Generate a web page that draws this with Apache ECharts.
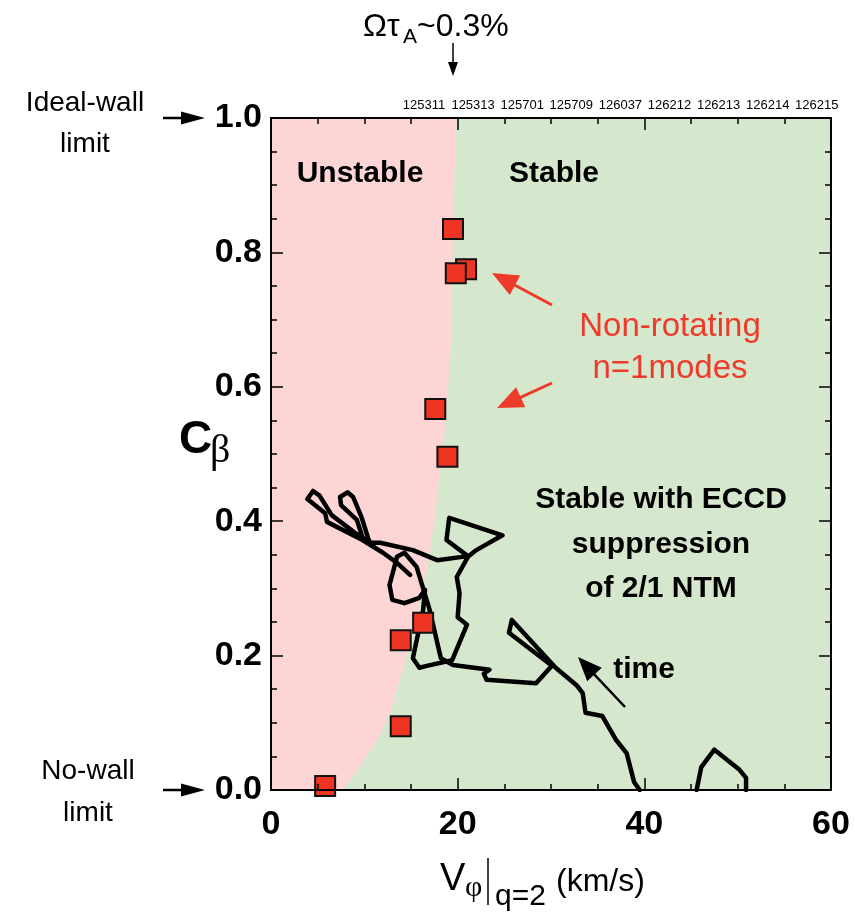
<!DOCTYPE html>
<html><head><meta charset="utf-8">
<script src="https://cdn.jsdelivr.net/npm/echarts@6/dist/echarts.min.js"></script>
<style>html,body{margin:0;padding:0;background:#fff}#chart{width:855px;height:920px}</style>
</head><body><div id="chart"></div>
<script>
// ---- data ----
const xTickValues = [0, 20, 40, 60];
const yTickValues = [0.0, 0.2, 0.4, 0.6, 0.8, 1.0];
const shotLabels = ['125311','125313','125701','125709','126037','126212','126213','126214','126215'];

// stability boundary (x = V_phi at given C_beta)
const boundaryY = [0.0, 0.03, 0.07, 0.119, 0.179, 0.25, 0.327, 0.40, 0.475, 0.55, 0.655, 0.78, 0.878, 1.0];
const boundaryX = [7.6, 9.3, 11.2, 12.9, 14.1, 15.5, 16.7, 17.5, 18.1, 18.7, 19.25, 19.45, 19.55, 19.9];

// non-rotating n=1 modes
const modeX = [19.5, 20.9, 19.8, 17.6, 18.9, 16.3, 13.9, 13.9, 5.8];
const modeY = [0.835, 0.775, 0.769, 0.567, 0.496, 0.249, 0.223, 0.095, 0.006];

// discharge trajectory
const trajX = [39.5,38.9,38.1,37.0,35.5,33.7,33.4,32.8,30.5,25.8,25.5,30.1,28.4,23.1,22.8,23.4,19.5,18.2,17.0,15.6,14.3,13.5,12.7,13.0,14.3,15.9,16.5,16.3,15.2,15.9,16.8,19.4,21.0,20.0,20.2,19.9,21.1,22.0,24.8,19.1,18.8,21.1,17.8,15.2,11.7,10.6,10.4,9.7,8.8,8.2,7.4,7.5,9.2,9.8,10.4,6.5,5.2,4.5,3.9,5.8,6.0,9.8,12.0,13.5,14.9];
const trajY = [0.0,0.012,0.055,0.074,0.110,0.115,0.144,0.155,0.182,0.253,0.234,0.185,0.159,0.164,0.173,0.179,0.186,0.196,0.268,0.332,0.353,0.347,0.305,0.283,0.278,0.286,0.298,0.268,0.196,0.182,0.185,0.193,0.246,0.257,0.293,0.317,0.347,0.357,0.379,0.405,0.372,0.348,0.342,0.357,0.368,0.368,0.375,0.406,0.436,0.443,0.436,0.424,0.402,0.376,0.368,0.409,0.438,0.445,0.433,0.412,0.399,0.372,0.353,0.338,0.320];
const traj2X = [45.6, 46.1, 47.5, 50.2, 50.9, 50.9];
const traj2Y = [0.0, 0.034, 0.060, 0.030, 0.018, 0.0];

// ---- styling ----
const PINK = '#fcd5d4', GREEN = '#d5e8ce', RED = '#ee3524', RTXT = '#ee3a2a';
const SANS = "'Liberation Sans', Arial, sans-serif";
const SERIF = "'Liberation Serif', 'DejaVu Serif', serif";

const chart = echarts.init(document.getElementById('chart'), null, {renderer: 'canvas'});

function txt(x, y, text, size, opts) {
  opts = opts || {};
  return {type: 'text', x: x, y: y, z: 50, silent: true,
    style: {text: text, fontSize: size, fontFamily: opts.family || SANS, fontWeight: opts.weight || 'normal',
      fill: opts.color || '#000', align: opts.align || 'center', verticalAlign: 'middle'}};
}
function arrow(x1, y1, x2, y2, color, headLen, headW, lw) {
  const dx = x2 - x1, dy = y2 - y1, L = Math.hypot(dx, dy), ux = dx / L, uy = dy / L;
  const bx = x2 - ux * headLen, by = y2 - uy * headLen;
  const px = -uy * headW / 2, py = ux * headW / 2;
  return [
    {type: 'line', z: 50, silent: true, shape: {x1: x1, y1: y1, x2: bx + ux * 2, y2: by + uy * 2}, style: {stroke: color, lineWidth: lw}},
    {type: 'polygon', z: 50, silent: true, shape: {points: [[x2, y2], [bx + px, by + py], [bx - px, by - py]]}, style: {fill: color}}
  ];
}

const graphics = [];
// top annotation
graphics.push(txt(363, 27, 'Ωτ', 32, {align: 'left'}));
graphics.push(txt(403, 37, 'A', 21, {align: 'left'}));
graphics.push(txt(417, 27, '~0.3%', 32, {align: 'left'}));
graphics.push(...arrow(453, 43, 453, 76, '#000', 14, 10, 1.5));
// shot numbers
shotLabels.forEach((s, i) => graphics.push(txt(424 + i * 49.1, 105, s, 13, {})));
// left annotations
graphics.push(txt(85, 103, 'Ideal-wall', 28, {}));
graphics.push(txt(85, 144, 'limit', 28, {}));
graphics.push(...arrow(163, 118, 205, 118, '#000', 24, 13, 2.5));
graphics.push(txt(88, 771, 'No-wall', 28, {}));
graphics.push(txt(88, 813, 'limit', 28, {}));
graphics.push(...arrow(163, 790, 205, 790, '#000', 24, 13, 2.5));
// y title
graphics.push(txt(179, 440, 'C', 46, {weight: 'bold', align: 'left'}));
graphics.push(txt(210, 451, 'β', 40, {family: SERIF, align: 'left'}));
// x title
graphics.push(txt(440, 880, 'V', 38, {align: 'left'}));
graphics.push(txt(465, 888, 'φ', 30, {family: SERIF, align: 'left'}));
graphics.push({type: 'line', z: 50, silent: true, shape: {x1: 488, y1: 858, x2: 488, y2: 905}, style: {stroke: '#000', lineWidth: 1.5}});
graphics.push(txt(495, 897, 'q=2', 30, {align: 'left'}));
graphics.push(txt(556, 882, '(km/s)', 32, {align: 'left'}));
// region labels
graphics.push(txt(360, 174, 'Unstable', 30, {weight: 'bold'}));
graphics.push(txt(554, 174, 'Stable', 30, {weight: 'bold'}));
graphics.push(txt(670, 327, 'Non-rotating', 33, {color: RTXT}));
graphics.push(txt(670, 369, 'n=1modes', 33, {color: RTXT}));
graphics.push(...arrow(552, 305, 492, 273, RTXT, 26, 22, 3));
graphics.push(...arrow(552, 383, 497, 408, RTXT, 26, 22, 3));
graphics.push(txt(661, 500, 'Stable with ECCD', 30, {weight: 'bold'}));
graphics.push(txt(661, 545, 'suppression', 30, {weight: 'bold'}));
graphics.push(txt(661, 589, 'of 2/1 NTM', 30, {weight: 'bold'}));
graphics.push(txt(644, 670, 'time', 30, {weight: 'bold'}));
graphics.push(...arrow(625, 707, 578, 657, '#000', 24, 20, 2.5));

const axisCommon = {
  type: 'value', min: 0, z: 10,
  axisLine: {show: true, onZero: false, lineStyle: {color: '#000', width: 2}},
  axisTick: {show: true, inside: true, length: 12, lineStyle: {color: '#000', width: 1.5}},
  minorTick: {show: true, splitNumber: 4, length: 6, lineStyle: {color: '#000', width: 1.5}},
  splitLine: {show: false}, minorSplitLine: {show: false}
};
const labelStyle = {fontSize: 34, fontWeight: 'bold', fontFamily: SANS, color: '#000'};

const option = {
  animation: false,
  backgroundColor: '#fff',
  grid: {left: 271, right: 24, top: 118, bottom: 130, show: true, backgroundColor: GREEN, borderWidth: 0},
  xAxis: [
    Object.assign({}, axisCommon, {position: 'bottom', max: 60, interval: 20,
      axisLabel: Object.assign({}, labelStyle, {margin: 18, customValues: xTickValues})}),
    Object.assign({}, axisCommon, {position: 'top', max: 60, interval: 20, axisLabel: {show: false}})
  ],
  yAxis: [
    Object.assign({}, axisCommon, {position: 'left', max: 1, interval: 0.2,
      axisLabel: Object.assign({}, labelStyle, {margin: 9, formatter: v => v.toFixed(1)})}),
    Object.assign({}, axisCommon, {position: 'right', max: 1, interval: 0.2, axisLabel: {show: false}})
  ],
  graphic: graphics,
  series: [
    {
      type: 'custom', silent: true, z: 1, clip: true,
      data: [[0, 0]],
      renderItem: function (params, api) {
        const pts = boundaryX.map((x, i) => api.coord([x, boundaryY[i]]));
        pts.push(api.coord([0, 1]), api.coord([0, 0]));
        return {type: 'polygon', shape: {points: pts}, style: {fill: PINK}};
      }
    },
    {
      type: 'line', z: 3, silent: true, showSymbol: false, symbol: 'none', clip: true,
      data: trajX.map((x, i) => [x, trajY[i]]),
      lineStyle: {color: '#000', width: 4.5, join: 'round', cap: 'round'}
    },
    {
      type: 'line', z: 3, silent: true, showSymbol: false, symbol: 'none', clip: true,
      data: traj2X.map((x, i) => [x, traj2Y[i]]),
      lineStyle: {color: '#000', width: 4.5, join: 'round', cap: 'round'}
    },
    {
      type: 'scatter', z: 4, silent: true, symbol: 'rect', symbolSize: 20,
      data: modeX.map((x, i) => [x, modeY[i]]),
      itemStyle: {color: RED, borderColor: '#111', borderWidth: 2, opacity: 1}
    }
  ]
};
chart.setOption(option);
</script></body></html>
